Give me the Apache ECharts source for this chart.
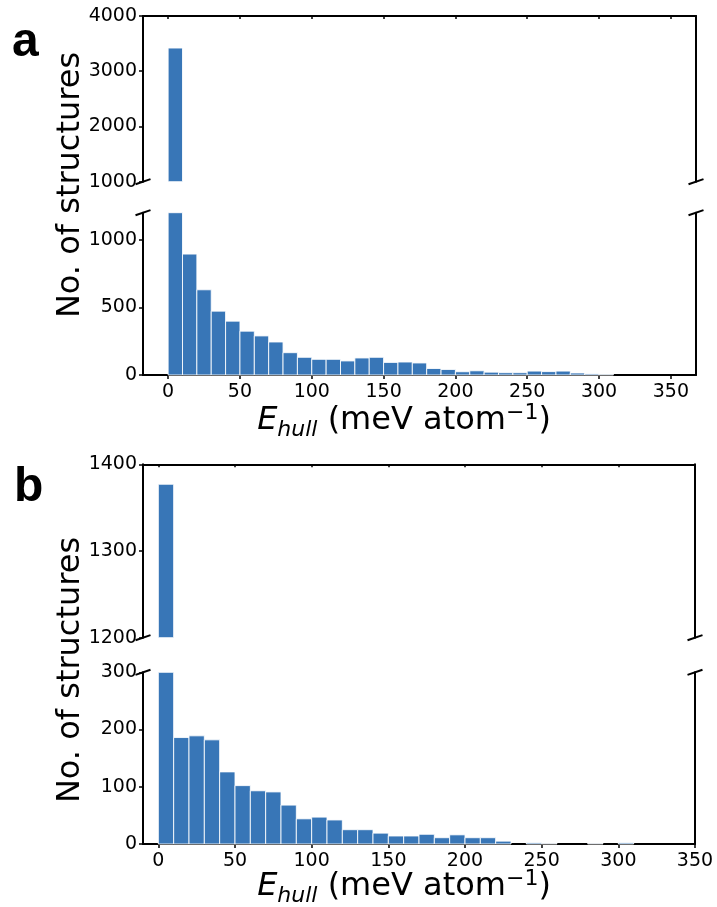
<!DOCTYPE html>
<html>
<head>
<meta charset="utf-8">
<script src="https://cdn.jsdelivr.net/npm/echarts@6/dist/echarts.min.js"></script>
<style>
  html, body { margin: 0; padding: 0; background: #fff; }
  #main { width: 717px; height: 907px; }
</style>
</head>
<body>
<div id="main"></div>
<script>
// histogram bins: 10 meV atom^-1 wide, starting at 0
var binWidth = 10;
// panel a: counts per bin (0-10, 10-20, ...)
var countsA = [3420, 894, 630, 472, 398, 324, 289, 244, 165, 131, 116, 116, 104, 126, 131, 93, 96, 89, 48, 41,
  24, 31, 21, 17, 17, 29, 25, 29, 15, 8, 5, 0, 0, 0, 0];
// panel b
var countsB = [1377, 186, 189, 182, 126, 102, 93, 91, 68, 44, 47, 42, 25, 25, 19, 14, 14, 17, 11, 16,
  11, 11, 5, 0, 2, 1, 0, 0, 1, 0, 2, 0, 0, 0, 0];
var xTicksA = [0, 50, 100, 150, 200, 250, 300, 350];
var xTicksB = [0, 50, 100, 150, 200, 250, 300, 350];
var yTicksATop = [1000, 2000, 3000, 4000];
var yTicksABot = [0, 500, 1000];
var yTicksBTop = [1200, 1300, 1400];
var yTicksBBot = [0, 100, 200, 300];

var FONT = "'DejaVu Sans', sans-serif";
var BAR = '#3876b7';

function toBins(counts) {
  return counts.map(function (c, i) {
    return [i * binWidth, (i + 1) * binWidth, c];
  });
}

// 4 axes: a top, a bottom, b top, b bottom
var grids = [
  { left: 143, top: 16, width: 553, height: 165.7 },
  { left: 143, top: 212.7, width: 553, height: 162.3 },
  { left: 143, top: 464.3, width: 552, height: 173.4 },
  { left: 143, top: 672.3, width: 552, height: 171.7 }
];

function renderHist(params, api) {
  var x0 = api.value(0), x1 = api.value(1), y = api.value(2);
  if (!y) return;
  var pA = api.coord([x0, y]);
  var pB = api.coord([x1, 0]);
  var rect = echarts.graphic.clipRectByRect({
    x: pA[0], y: pA[1], width: pB[0] - pA[0], height: pB[1] - pA[1]
  }, {
    x: params.coordSys.x, y: params.coordSys.y,
    width: params.coordSys.width, height: params.coordSys.height
  });
  if (!rect) return;
  return {
    type: 'rect',
    shape: rect,
    style: { fill: BAR, stroke: 'rgba(255,255,255,0.85)', lineWidth: 1 }
  };
}

function plain(v) { return String(v); }

function xAxisOf(gi, min, max, ticks, isTop) {
  return {
    type: 'value', gridIndex: gi, min: min, max: max,
    position: isTop ? 'top' : 'bottom',
    axisLine: { show: true, onZero: false, lineStyle: { color: '#000', width: 2 } },
    axisTick: { show: true, inside: isTop, length: isTop ? 3 : 4, customValues: ticks, lineStyle: { color: '#000', width: 1.5 } },
    axisLabel: { show: !isTop, customValues: ticks, formatter: plain, color: '#000', fontSize: 19, fontFamily: FONT, margin: 8 },
    splitLine: { show: false }
  };
}

function yAxisOf(gi, min, max, ticks) {
  return {
    type: 'value', gridIndex: gi, min: min, max: max, position: 'left',
    axisLine: { show: true, onZero: false, lineStyle: { color: '#000', width: 2 } },
    axisTick: { show: true, length: 4, customValues: ticks, lineStyle: { color: '#000', width: 1.5 } },
    axisLabel: { customValues: ticks, formatter: plain, color: '#000', fontSize: 19, fontFamily: FONT, margin: 6 },
    splitLine: { show: false }
  };
}

function rightSpine(gi, min, max) {
  return {
    type: 'value', gridIndex: gi, min: min, max: max, position: 'right',
    axisLine: { show: true, onZero: false, lineStyle: { color: '#000', width: 2 } },
    axisTick: { show: false }, axisLabel: { show: false }, splitLine: { show: false }
  };
}

// little diagonal marks where the y axis is broken
function breakMarks() {
  var out = [];
  [[0, 1], [2, 3]].forEach(function (pair) {
    var g0 = grids[pair[0]], g1 = grids[pair[1]];
    var ys = [g0.top + g0.height, g1.top];
    var xs = [g0.left, g0.left + g0.width];
    ys.forEach(function (y) {
      xs.forEach(function (x) {
        out.push({
          type: 'line',
          shape: { x1: x - 7.5, y1: y + 2.6, x2: x + 7.5, y2: y - 2.6 },
          style: { stroke: '#000', lineWidth: 2 }
        });
      });
    });
  });
  return out;
}

var xRich = {
  e: { fontSize: 32, fontStyle: 'italic', fontFamily: FONT, lineHeight: 44, color: '#000' },
  sub: { fontSize: 22, fontStyle: 'italic', fontFamily: FONT, lineHeight: 22, padding: [18, 0, 0, 0], color: '#000' },
  n: { fontSize: 32, fontFamily: FONT, lineHeight: 44, color: '#000' },
  sup: { fontSize: 22, fontFamily: FONT, lineHeight: 22, padding: [0, 0, 16, 0], color: '#000' }
};
var xLabelText = '{e|E}{sub|hull}{n| (meV atom}{sup|\u22121}{n|)}';

function xLabel(cy) {
  return {
    type: 'text', x: 404, y: cy,
    style: { text: xLabelText, rich: xRich, align: 'center', verticalAlign: 'middle' }
  };
}
function yLabel(cy) {
  return {
    type: 'text', x: 71, y: cy, rotation: Math.PI / 2,
    style: { text: 'No. of structures', fontSize: 32, fontFamily: FONT, fill: '#000', align: 'center', verticalAlign: 'middle' }
  };
}
function panelLetter(txt, x, y) {
  return {
    type: 'text', x: x, y: y,
    style: { text: txt, fontSize: 48, fontWeight: 'bold', fontFamily: "'Liberation Sans', Arial, sans-serif", fill: '#000', align: 'left', verticalAlign: 'top' }
  };
}

var chart = echarts.init(document.getElementById('main'), null, { renderer: 'canvas' });
var option = {
  animation: false,
  backgroundColor: '#fff',
  grid: grids,
  xAxis: [
    xAxisOf(0, -17.5, 367.5, xTicksA, true),
    xAxisOf(1, -17.5, 367.5, xTicksA, false),
    xAxisOf(2, -10, 350, xTicksB, true),
    xAxisOf(3, -10, 350, xTicksB, false)
  ],
  yAxis: [
    yAxisOf(0, 1000, 4000, yTicksATop),
    yAxisOf(1, 0, 1200, yTicksABot),
    yAxisOf(2, 1200, 1400, yTicksBTop),
    yAxisOf(3, 0, 300, yTicksBBot),
    rightSpine(0, 1000, 4000),
    rightSpine(1, 0, 1200),
    rightSpine(2, 1200, 1400),
    rightSpine(3, 0, 300)
  ],
  series: [
    { type: 'custom', xAxisIndex: 0, yAxisIndex: 0, data: toBins(countsA), renderItem: renderHist, encode: { x: [0, 1], y: 2 } },
    { type: 'custom', xAxisIndex: 1, yAxisIndex: 1, data: toBins(countsA), renderItem: renderHist, encode: { x: [0, 1], y: 2 } },
    { type: 'custom', xAxisIndex: 2, yAxisIndex: 2, data: toBins(countsB), renderItem: renderHist, encode: { x: [0, 1], y: 2 } },
    { type: 'custom', xAxisIndex: 3, yAxisIndex: 3, data: toBins(countsB), renderItem: renderHist, encode: { x: [0, 1], y: 2 } }
  ],
  graphic: breakMarks().concat([
    panelLetter('a', 12, 19),
    panelLetter('b', 14, 464),
    yLabel(185),
    yLabel(670),
    xLabel(421),
    xLabel(887)
  ])
};
chart.setOption(option);
</script>
</body>
</html>
